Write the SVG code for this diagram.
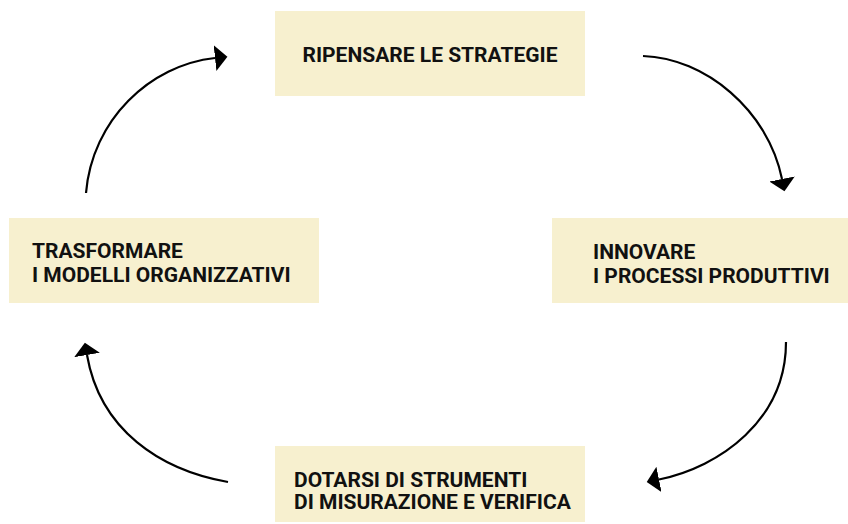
<svg xmlns="http://www.w3.org/2000/svg" width="848" height="524" viewBox="0 0 848 524">
  <style>
    .box { fill: #F7F0CF; }
    .lbl { font-family: Roboto, "Liberation Sans", sans-serif; font-weight: 700; font-size: 21px; fill: #111111; }
    .conn { fill: none; stroke: #000000; stroke-width: 2.2; marker-end: url(#head); }
  </style>
  <defs>
    <marker id="head" markerUnits="userSpaceOnUse" markerWidth="14" markerHeight="28" refX="0" refY="13" orient="auto" viewBox="0 0 14 28">
      <path d="M0,0 L12.5,13 L0,26 Z" fill="#000000"/>
    </marker>
  </defs>
  <rect width="848" height="524" fill="#FFFFFF"/>

  <g id="node-ripensare">
    <rect class="box" x="275" y="11" width="310" height="85"/>
    <text class="lbl" x="430" y="61.5" text-anchor="middle">RIPENSARE LE STRATEGIE</text>
  </g>
  <g id="node-innovare">
    <rect class="box" x="552" y="218" width="296" height="85"/>
    <text class="lbl" x="593" y="258.5">INNOVARE</text>
    <text class="lbl" x="593" y="282.5">I PROCESSI PRODUTTIVI</text>
  </g>
  <g id="node-dotarsi">
    <rect class="box" x="275" y="446" width="310" height="76"/>
    <text class="lbl" x="294" y="486.5">DOTARSI DI STRUMENTI</text>
    <text class="lbl" x="294" y="508.5">DI MISURAZIONE E VERIFICA</text>
  </g>
  <g id="node-trasformare">
    <rect class="box" x="9" y="218" width="310" height="85"/>
    <text class="lbl" x="32" y="258">TRASFORMARE</text>
    <text class="lbl" x="32" y="282">I MODELLI ORGANIZZATIVI</text>
  </g>

  <g id="connectors">
    <path class="conn" d="M643,56 C705,58 768,110 782,179"/>
    <path class="conn" d="M786,342 C786,420 720,467 659,479.5"/>
    <path class="conn" d="M228,482 C160,470 100,430 87,355"/>
    <path class="conn" d="M86,193 C92,120 150,65 215,58"/>
  </g>
</svg>
